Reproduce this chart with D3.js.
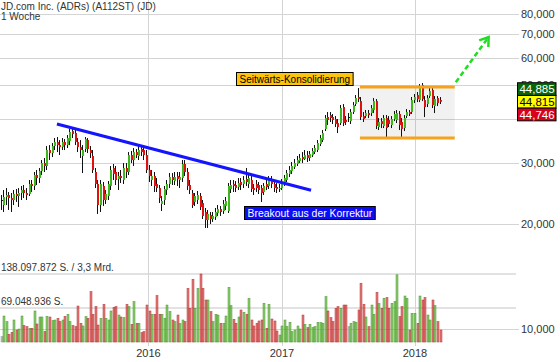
<!DOCTYPE html>
<html>
<head>
<meta charset="utf-8">
<script src="https://cdn.jsdelivr.net/npm/d3@7"></script>
<style>
  body { margin: 0; background: #fff; }
  svg { display: block; font-family: Arial, 'Liberation Sans', sans-serif; }
</style>
</head>
<body>
<svg width="560" height="362"></svg>
<script>
// weekly candles, first week starting Monday 2014-11-24
const firstWeek = '2014-11-24';

const open = [
  23430, 22670, 23900, 24220, 23740, 23430, 24380, 24060, 24540, 25030,
  24540, 24380, 26040, 25700, 27640, 27090, 28370, 29910, 29330, 32590,
  31950, 33460, 34360, 33680, 33240, 34360, 33680, 34590, 36940, 36460,
  34360, 33240, 31330, 32810, 34810, 32590, 31330, 28190, 26040, 22670,
  25700, 23430, 24060, 25700, 28940, 28190, 26920, 27450, 26740, 28940,
  28190, 31530, 30510, 32160, 31330, 32810, 32590, 31530, 28560, 26740,
  27450, 26040, 25360, 22820, 23430, 25030, 26040, 27270, 26560, 27450,
  26740, 27090, 29720, 28190, 25870, 24540, 23130, 23430, 24060, 22970,
  21650, 20540, 21220, 20670, 20950, 21510, 22080, 21790, 22520, 21790,
  25200, 26040, 25870, 25530, 26390, 26040, 26920, 26040, 26740, 25360,
  26040, 25870, 25360, 24700, 26040, 25700, 26740, 26040, 25530, 25200,
  25360, 26040, 26740, 27820, 28370, 29130, 29720, 30310, 31120, 30710,
  31530, 30920, 31530, 32160, 32590, 33910, 34810, 37440, 40520, 41060,
  40520, 39990, 38950, 38950, 43280, 39730, 40520, 39460, 41880, 44150,
  46240, 45030, 40790, 40790, 41600, 41600, 42440, 45030, 37930, 39460,
  38180, 40250, 39730, 38440, 39990, 39730, 41330, 39210, 37680, 40790,
  41880, 41880, 45330, 46850, 45330, 50050, 45330, 44150, 46540, 48420,
  43570, 45930, 45330
];
const high = [
  24220, 25030, 25360, 24700, 24540, 25030, 25200, 25360, 25700, 25870,
  25360, 26740, 26740, 28190, 28560, 28940, 30510, 30920, 33460, 33680,
  34130, 35280, 35510, 34810, 35280, 35040, 35980, 37440, 37930, 37190,
  35280, 34810, 33680, 35510, 35280, 33460, 32590, 28940, 26740, 26740,
  26390, 25030, 26560, 29330, 29720, 29330, 28190, 28560, 29910, 29910,
  32160, 32380, 33020, 32810, 33460, 33680, 33240, 32590, 29520, 28560,
  28190, 27090, 25870, 24060, 25700, 26740, 28000, 28000, 28190, 28190,
  28190, 30510, 30510, 28940, 26740, 25030, 24540, 24870, 24540, 23430,
  22230, 21940, 21650, 21650, 22230, 22670, 22520, 23430, 23900, 26210,
  26740, 26740, 26560, 27090, 27090, 27450, 28940, 28000, 27450, 26040,
  26740, 26390, 25870, 26210, 26740, 27450, 27450, 26740, 26210, 26040,
  26920, 27640, 28560, 29330, 30110, 30710, 31330, 31740, 32160, 32590,
  32380, 32380, 33020, 33680, 34810, 35980, 37190, 41060, 41880, 41880,
  41330, 40790, 39990, 43860, 44150, 40790, 41600, 42720, 44740, 46850,
  49070, 46240, 41880, 42440, 42440, 43860, 45930, 45630, 40250, 40250,
  41060, 41060, 40790, 40790, 42160, 42440, 42160, 40250, 41060, 42720,
  42440, 46240, 47160, 47790, 50380, 50710, 46540, 46850, 49070, 49070,
  46540, 46540, 46240
];
const low = [
  21940, 21650, 22670, 21940, 21650, 22670, 23130, 22380, 23430, 23740,
  23430, 24060, 24700, 25030, 25870, 26210, 27640, 28190, 28560, 30510,
  31120, 32590, 32160, 31530, 32590, 32590, 33020, 33680, 35280, 33680,
  32160, 30920, 28000, 32160, 31950, 30920, 28000, 25360, 21370, 21650,
  22520, 22820, 23430, 25030, 26740, 25870, 25030, 26210, 26040, 27090,
  27640, 29910, 29330, 30920, 30510, 31330, 30510, 28000, 26390, 25700,
  24700, 24700, 22970, 21790, 22670, 24220, 25360, 25870, 25870, 25700,
  25360, 26390, 27450, 25030, 24380, 22230, 22520, 22820, 21940, 20670,
  19480, 19480, 20000, 20270, 20540, 21090, 21090, 21370, 21940, 21510,
  24540, 24700, 24700, 25030, 25030, 25360, 25700, 25360, 24700, 24220,
  24700, 24380, 23130, 24220, 25030, 25200, 25360, 24700, 24540, 24700,
  25030, 25700, 26390, 27270, 27820, 28750, 29330, 29910, 29910, 30510,
  30110, 30310, 31120, 31740, 32160, 33460, 34360, 36940, 38440, 39210,
  38690, 37930, 36460, 38440, 38180, 38440, 39210, 38690, 41330, 43570,
  44740, 39730, 39210, 40250, 40250, 40790, 41600, 37430, 37190, 37680,
  37680, 35510, 37930, 37680, 39460, 38950, 37190, 35280, 36940, 40250,
  40790, 41330, 44440, 44740, 44740, 45030, 40520, 43280, 45930, 43000,
  41600, 43570, 44150
];
const close = [
  23430, 23900, 24220, 23740, 23430, 24380, 24060, 24540, 25030, 24540,
  24220, 26040, 25700, 27640, 27090, 28370, 29910, 29330, 32590, 31950,
  33460, 34360, 33680, 33240, 34360, 33680, 35280, 36700, 36220, 34360,
  33240, 32590, 32590, 35040, 32810, 31950, 28560, 26040, 22670, 26040,
  23430, 24380, 26040, 28560, 27820, 26740, 27450, 27090, 28940, 28190,
  31530, 30510, 32160, 31530, 32590, 32160, 31530, 28560, 27450, 27450,
  25700, 25360, 23740, 23280, 25200, 26040, 27270, 26740, 27270, 26920,
  27270, 29720, 28190, 25700, 25030, 22670, 24060, 24220, 22380, 21090,
  20540, 21370, 20670, 21090, 21650, 22080, 21650, 22820, 23280, 25700,
  25870, 25700, 25360, 26210, 25870, 26740, 26390, 27090, 25200, 25030,
  25360, 25030, 24540, 25700, 25530, 26740, 26040, 25360, 25200, 25360,
  26210, 27090, 28000, 28560, 29330, 29910, 30510, 30920, 30710, 31530,
  30920, 31740, 32380, 33020, 34130, 35280, 36460, 40250, 39730, 40250,
  39730, 38690, 37930, 43000, 38950, 39210, 40520, 41880, 43860, 45930,
  45630, 40520, 39990, 41600, 41060, 43000, 45030, 38180, 39210, 38690,
  40250, 37680, 38690, 39990, 41330, 41600, 38440, 37430, 40250, 41880,
  41330, 45330, 46240, 45630, 49720, 45630, 43280, 45930, 48110, 43860,
  45630, 44440, 44815
];
// weekly volume, millions of shares
const volume = [
  10.8, 52.8, 41.3, 15.6, 19.6, 44.7, 24.4, 26.4, 52.8, 33.2,
  31.1, 27.8, 27.8, 63.0, 36.6, 50.8, 50.8, 21.0, 52.1, 50.8,
  43.3, 44.7, 48.1, 41.3, 44.7, 52.1, 56.2, 41.3, 33.2, 31.1,
  73.1, 37.9, 32.5, 51.4, 48.1, 102.2, 56.2, 71.8, 34.5, 48.1,
  76.5, 48.1, 44.7, 63.0, 70.4, 71.8, 54.8, 50.8, 49.4, 76.5,
  71.8, 35.9, 81.9, 37.9, 37.9, 19.0, 21.0, 75.1, 63.0, 56.2,
  56.2, 94.1, 56.2, 56.2, 48.1, 75.1, 61.6, 44.7, 41.3, 54.8,
  37.2, 44.7, 41.3, 109.0, 68.4, 127.3, 68.4, 109.0, 138.1, 109.0,
  85.3, 85.3, 61.6, 41.3, 56.2, 54.8, 37.9, 37.9, 52.8, 111.0,
  73.8, 46.0, 37.9, 50.8, 65.0, 60.3, 56.2, 88.7, 44.7, 32.5,
  37.9, 42.7, 44.7, 78.5, 27.8, 76.5, 46.7, 42.7, 22.3, 14.2,
  32.5, 44.7, 31.1, 40.0, 21.0, 24.4, 32.5, 26.4, 54.8, 35.9,
  29.1, 35.9, 29.1, 31.1, 40.0, 39.3, 37.9, 92.1, 63.0, 49.4,
  41.3, 68.4, 71.8, 68.4, 75.1, 75.1, 31.1, 37.9, 41.3, 40.0,
  65.0, 119.2, 76.5, 50.8, 31.1, 75.1, 56.2, 100.9, 77.9, 68.4,
  88.7, 90.1, 68.4, 78.5, 81.9, 136.5, 51.4, 71.8, 93.4, 88.7,
  24.4, 58.2, 58.2, 37.9, 93.4, 85.3, 90.1, 54.8, 44.7, 85.3,
  73.8, 41.3, 24.4
];

const priceTicks = [10000, 20000, 30000, 40000, 50000, 60000, 70000, 80000];
// 40,000 sits fully under the quote boxes, so its label is not drawn
const priceTickLabels = [10000, 20000, 30000, 50000, 60000, 70000, 80000];
const yearTicks = ['2016-01-01', '2017-01-01', '2018-01-01'];
const volumeTicks = [138097872, 69048936];
const volumeTickLabels = ['138.097.872 S. / 3,3 Mrd.', '69.048.936 S.'];
const quoteValues = [44885, 44815, 44746];

// annotations: [date, price]
const trendLine = [['2015-04-25', 38700], ['2017-03-22', 25000]];
const rangeDates = ['2017-08-03', '2018-04-20'];
const rangePrices = [49400, 35300];
const arrowPoints = [['2018-04-23', 51000], ['2018-07-22', 68700]];
const noteTexts = ['Seitwärts-Konsolidierung', 'Breakout aus der Korrektur'];
const noteAnchors = [['2016-08-29', 50000], ['2016-09-20', 20700]];

const title = 'JD.com Inc. (ADRs) (A112ST) (JD)';
const subtitle = '1 Woche';

// ---- setup
const svg = d3.select('svg');
const parse = d3.timeParse('%Y-%m-%d');
const start = parse(firstWeek);
const dates = close.map((_, i) => d3.timeDay.offset(start, i * 7));

const x = d3.scaleTime()
  .domain([dates[0], dates[dates.length - 1]])
  .range([1.5, 440.5]);

const y = d3.scaleLog().domain([10000, 80000]).range([329, 14]);
const yVol = d3.scaleLinear().domain([0, volumeTicks[0]]).range([342, 274]);

const up = '#3cb81c', down = '#e01010';
const fmt = d3.format(',');

// gridlines
svg.append('g')
  .selectAll('line')
  .data(priceTicks)
  .join('line')
  .attr('x1', 0)
  .attr('x2', 519)
  .attr('y1', (d) => Math.round(y(d)) + 0.5)
  .attr('y2', (d) => Math.round(y(d)) + 0.5)
  .attr('stroke', '#d4d4d4');

svg.append('g')
  .selectAll('line')
  .data(volumeTicks)
  .join('line')
  .attr('x1', 0)
  .attr('x2', 516)
  .attr('y1', (d) => Math.round(yVol(d)))
  .attr('y2', (d) => Math.round(yVol(d)))
  .attr('stroke', '#e2e2e2')
  .attr('stroke-width', 2);

svg.append('g')
  .selectAll('line')
  .data(yearTicks)
  .join('line')
  .attr('x1', (d) => Math.round(x(parse(d))) + 0.5)
  .attr('x2', (d) => Math.round(x(parse(d))) + 0.5)
  .attr('y1', 0)
  .attr('y2', 346)
  .attr('stroke', '#d4d4d4');

// consolidation range
const rx0 = x(parse(rangeDates[0])), rx1 = x(parse(rangeDates[1]));
const ry0 = y(rangePrices[0]), ry1 = y(rangePrices[1]);
svg.append('rect')
  .attr('x', rx0)
  .attr('y', ry0)
  .attr('width', rx1 - rx0)
  .attr('height', ry1 - ry0)
  .attr('fill', 'rgba(0,0,0,0.055)');

// volume bars
svg.append('g')
  .selectAll('rect')
  .data(volume)
  .join('rect')
  .attr('x', (d, i) => Math.round(x(dates[i])) - 1)
  .attr('y', (d) => yVol(d * 1e6))
  .attr('width', 2)
  .attr('height', (d) => 342 - yVol(d * 1e6))
  .attr('fill', (d, i) =>
    close[i] > open[i] ? 'rgba(95,185,55,0.7)' : close[i] < open[i] ? 'rgba(215,70,70,0.7)' : '#bbb')
  .attr('stroke', (d, i) =>
    close[i] > open[i] ? 'rgba(60,140,30,0.9)' : close[i] < open[i] ? 'rgba(175,35,35,0.9)' : '#999')
  .attr('stroke-width', 0.5);

// candles
const candles = svg.append('g').selectAll('g').data(close).join('g');

candles
  .append('line')
  .attr('x1', (d, i) => Math.round(x(dates[i])) - 0.5)
  .attr('x2', (d, i) => Math.round(x(dates[i])) - 0.5)
  .attr('y1', (d, i) => y(high[i]))
  .attr('y2', (d, i) => y(low[i]))
  .attr('stroke', '#111');

candles
  .append('rect')
  .attr('x', (d, i) => Math.round(x(dates[i])) - 1)
  .attr('width', 2)
  .attr('y', (d, i) => y(Math.max(open[i], close[i])))
  .attr('height', (d, i) => Math.max(1, Math.abs(y(open[i]) - y(close[i]))))
  .attr('fill', (d, i) => (close[i] > open[i] ? up : close[i] < open[i] ? down : '#111'));

// trend line
svg.append('line')
  .attr('x1', x(parse(trendLine[0][0])))
  .attr('y1', y(trendLine[0][1]))
  .attr('x2', x(parse(trendLine[1][0])))
  .attr('y2', y(trendLine[1][1]))
  .attr('stroke', '#1414ff')
  .attr('stroke-width', 3);

// range borders
svg.append('g')
  .selectAll('line')
  .data(rangePrices)
  .join('line')
  .attr('x1', rx0)
  .attr('x2', rx1)
  .attr('y1', (d) => y(d))
  .attr('y2', (d) => y(d))
  .attr('stroke', '#f6a21c')
  .attr('stroke-width', 3);

// dashed green arrow
const a0 = [x(parse(arrowPoints[0][0])), y(arrowPoints[0][1])];
const a1 = [x(parse(arrowPoints[1][0])), y(arrowPoints[1][1])];
svg.append('line')
  .attr('x1', a0[0]).attr('y1', a0[1])
  .attr('x2', a1[0]).attr('y2', a1[1])
  .attr('stroke', '#22dd22')
  .attr('stroke-width', 2.5)
  .attr('stroke-dasharray', '5,3');
const ang = Math.atan2(a1[1] - a0[1], a1[0] - a0[0]);
const arm = (da) => [a1[0] - 10 * Math.cos(ang + da), a1[1] - 10 * Math.sin(ang + da)];
svg.append('path')
  .attr('d', `M${arm(0.6)}L${a1}L${arm(-0.6)}`)
  .attr('fill', 'none')
  .attr('stroke', '#22dd22')
  .attr('stroke-width', 2.5);

// note boxes
const noteFill = ['#fcc40c', '#0c0cf5'];
const noteInk = ['#000', '#fff'];
const noteSize = [10, 10.4];
noteTexts.forEach((t, k) => {
  const gx = Math.round(x(parse(noteAnchors[k][0]))) + 0.5;
  const gy = Math.round(y(noteAnchors[k][1])) + 0.5;
  const g = svg.append('g').attr('transform', `translate(${gx},${gy})`);
  const box = g.append('rect');
  const txt = g.append('text')
    .attr('x', 3)
    .attr('y', -3)
    .attr('font-size', noteSize[k])
    .attr('fill', noteInk[k])
    .text(t);
  const w = txt.node().getComputedTextLength();
  box.attr('x', 0).attr('y', -13).attr('width', w + 6).attr('height', 13)
    .attr('fill', noteFill[k]).attr('stroke', '#000');
});

// texts
svg.append('text').attr('x', 1).attr('y', 10).attr('font-size', 10).attr('fill', '#333').text(title);
svg.append('text').attr('x', 1).attr('y', 20).attr('font-size', 10).attr('fill', '#333').text(subtitle);

svg.append('g')
  .selectAll('text')
  .data(volumeTicks)
  .join('text')
  .attr('x', 1)
  .attr('y', (d) => Math.round(yVol(d)) - 3)
  .attr('font-size', 10)
  .attr('fill', '#333')
  .text((d, i) => volumeTickLabels[i]);

svg.append('g')
  .selectAll('text')
  .data(priceTickLabels)
  .join('text')
  .attr('x', 521)
  .attr('y', (d) => y(d) + 4)
  .attr('font-size', 11)
  .attr('fill', '#333')
  .text((d) => fmt(d));

svg.append('g')
  .selectAll('text')
  .data(yearTicks)
  .join('text')
  .attr('x', (d) => x(parse(d)))
  .attr('y', 357)
  .attr('text-anchor', 'middle')
  .attr('font-size', 11)
  .attr('fill', '#333')
  .text((d) => d.slice(0, 4));

// quote boxes stacked around the last price
const quoteFill = ['#0b660b', '#ffff00', '#d8001c'];
const quoteInk = ['#fff', '#000', '#fff'];
const qh = 12.7;
const qMid = y(quoteValues[1]);
const quotes = svg.append('g')
  .selectAll('g')
  .data(quoteValues)
  .join('g')
  .attr('transform', (d, i) => `translate(517.5,${qMid - qh * 1.5 + i * qh})`);
quotes.append('rect')
  .attr('width', 38.5)
  .attr('height', qh)
  .attr('fill', (d, i) => quoteFill[i])
  .attr('stroke', '#000');
quotes.append('text')
  .attr('x', 19.5)
  .attr('y', qh - 2.3)
  .attr('text-anchor', 'middle')
  .attr('font-size', 11.5)
  .attr('fill', (d, i) => quoteInk[i])
  .text((d) => fmt(d));
</script>
</body>
</html>
